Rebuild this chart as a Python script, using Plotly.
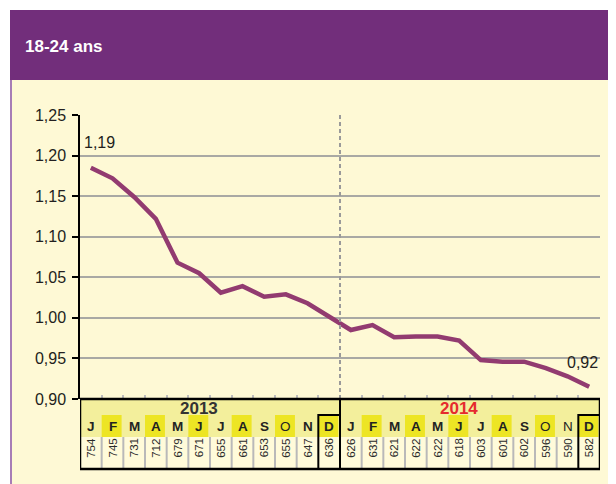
import plotly.graph_objects as go

# ---------------- data ----------------
title_text = "18-24 ans"
years = ["2013", "2014"]
month_letters = ["J", "F", "M", "A", "M", "J", "J", "A", "S", "O", "N", "D"]
values_2013 = [1.185, 1.172, 1.149, 1.122, 1.068, 1.055, 1.031, 1.039, 1.026, 1.029, 1.018, 1.001]
values_2014 = [0.985, 0.991, 0.976, 0.977, 0.977, 0.972, 0.948, 0.946, 0.946, 0.938, 0.928, 0.915]
counts_2013 = [754, 745, 731, 712, 679, 671, 655, 661, 653, 655, 647, 636]
counts_2014 = [626, 631, 621, 622, 622, 618, 603, 601, 602, 596, 590, 582]
first_label = "1,19"
last_label = "0,92"
y_ticks = [0.90, 0.95, 1.00, 1.05, 1.10, 1.15, 1.20, 1.25]

# ---------------- layout constants (screen pixels) ----------------
OX, OY = 8, 8            # page body margin of the browser
SW, SH = 616, 484        # screen size
W, H = SW - OX, SH - OY  # figure size
PL, PR, PT, PB = 80, 600, 115, 399   # plot area in screen pixels
L, R, T, B = PL - OX, SW - PR, PT - OY, SH - PB
PW, PH = PR - PL, PB - PT


def px(x):
    return (x - PL) / PW


def py(y):
    return (PB - y) / PH


values = values_2013 + values_2014
counts = counts_2013 + counts_2014
n = len(values)
xs = list(range(n))

PURPLE = "#722E7B"
CREAM = "#FEF9D5"
LINE = "#923B70"
ROW_BG = "#F3EF9C"
HILITE = "#EDE524"
FONT = "Liberation Sans, Arial"

fig = go.Figure()
fig.add_trace(go.Scatter(x=xs, y=values, mode="lines",
                         line=dict(color=LINE, width=4.5), hoverinfo="skip",
                         showlegend=False))

shapes = []
ann = []

# page background / header
shapes.append(dict(type="rect", xref="paper", yref="paper", x0=px(10), x1=px(SW + 2), y0=py(80), y1=py(SH + 2),
                   fillcolor=CREAM, line_width=0, layer="below"))
shapes.append(dict(type="rect", xref="paper", yref="paper", x0=px(10), x1=px(SW + 2), y0=py(10), y1=py(80),
                   fillcolor=PURPLE, line_width=0, layer="below"))
shapes.append(dict(type="line", xref="paper", yref="paper", x0=px(11), x1=px(11), y0=py(80), y1=py(SH + 2),
                   line=dict(color="#A77DB6", width=2), layer="below"))
ann.append(dict(text="<b>" + title_text + "</b>", xref="paper", yref="paper", x=px(23), y=py(46),
                xanchor="left", yanchor="middle", showarrow=False,
                font=dict(family=FONT, size=17, color="white")))

# dashed separator between years
shapes.append(dict(type="line", xref="x", yref="y", x0=11.5, x1=11.5, y0=0.90, y1=1.25,
                   line=dict(color="#9A9A9A", width=2, dash="4px,3px"), layer="above"))

# ---------------- table ----------------
y_top, y_mid1, y_mid2, y_bot = 399, 415, 437, 469
shapes.append(dict(type="rect", xref="x", yref="paper", x0=-0.5, x1=n - 0.5, y0=py(y_mid2), y1=py(y_top),
                   fillcolor=ROW_BG, line_width=0, layer="below"))
shapes.append(dict(type="rect", xref="x", yref="paper", x0=-0.5, x1=n - 0.5, y0=py(y_bot), y1=py(y_mid2),
                   fillcolor="#FFFBDA", line_width=0, layer="below"))
for i in range(n):
    m = i % 12
    if m % 2 == 1:
        shapes.append(dict(type="rect", xref="x", yref="paper", x0=i - 0.5, x1=i + 0.42,
                           y0=py(y_mid2), y1=py(y_mid1), fillcolor=HILITE, line_width=0, layer="below"))
    if i > 0 and i % 12 != 0 and m != 11:
        shapes.append(dict(type="line", xref="x", yref="paper", x0=i - 0.5, x1=i - 0.5,
                           y0=py(y_bot), y1=py(y_mid2), line=dict(color="#B9B9B9", width=2), layer="above"))
    letter = month_letters[m]
    light = (letter == "O") or (i == 22)
    ann.append(dict(text=letter if light else "<b>" + letter + "</b>", xref="x", yref="paper",
                    x=i, y=py(426.5), xanchor="center", yanchor="middle", showarrow=False,
                    font=dict(family=FONT, size=13.5, color="#222222")))
    ann.append(dict(text=str(counts[i]), xref="x", yref="paper", x=i, y=py(448), textangle=-90,
                    xanchor="center", yanchor="middle", showarrow=False,
                    font=dict(family=FONT, size=11.5, color="#2A2A2A")))

for d in (11, 23):
    shapes.append(dict(type="rect", xref="x", yref="paper", x0=d - 0.5, x1=d + 0.5, y0=py(y_bot),
                       y1=py(y_mid1), line=dict(color="black", width=2), layer="above"))
shapes.append(dict(type="line", xref="x", yref="paper", x0=11.5, x1=11.5, y0=py(y_bot), y1=py(y_top),
                   line=dict(color="black", width=2), layer="above"))
shapes.append(dict(type="rect", xref="x", yref="paper", x0=-0.5, x1=n - 0.5, y0=py(y_bot), y1=py(y_top),
                   line=dict(color="black", width=2.5), layer="above"))

ann.append(dict(text="<b>" + years[0] + "</b>", xref="x", yref="paper", x=5, y=py(408),
                xanchor="center", yanchor="middle", showarrow=False,
                font=dict(family=FONT, size=17, color="#333333")))
ann.append(dict(text="<b>" + years[1] + "</b>", xref="x", yref="paper", x=17, y=py(408),
                xanchor="center", yanchor="middle", showarrow=False,
                font=dict(family=FONT, size=17, color="#E52A2E")))

ann.append(dict(text=first_label, xref="x", yref="y", x=0, y=values[0], xshift=9, yshift=25,
                xanchor="center", yanchor="middle", showarrow=False,
                font=dict(family=FONT, size=16, color="#231F20")))
ann.append(dict(text=last_label, xref="x", yref="y", x=n - 1, y=values[-1], xshift=-7, yshift=24,
                xanchor="center", yanchor="middle", showarrow=False,
                font=dict(family=FONT, size=16, color="#231F20")))

fig.update_layout(
    width=W, height=H,
    margin=dict(l=L, r=R, t=T, b=B, pad=0),
    paper_bgcolor="white", plot_bgcolor="rgba(0,0,0,0)",
    separators=", ",
    shapes=shapes, annotations=ann,
    showlegend=False,
    xaxis=dict(range=[-0.5, n - 0.5], showgrid=False, zeroline=False, showline=False,
               ticks="inside", tickvals=[i + 0.5 for i in range(n - 1)], ticklen=4,
               tickcolor="#BDBDBD", tickwidth=1.5, showticklabels=False, fixedrange=True),
    yaxis=dict(range=[0.90, 1.25], tickvals=y_ticks, tickformat=".2f", showgrid=True,
               gridcolor="#A9A9A4", gridwidth=1.5, zeroline=False, showline=True,
               linecolor="black", linewidth=1.5, ticks="outside", ticklen=6, tickcolor="black",
               tickwidth=1.5, ticklabelstandoff=3,
               tickfont=dict(family=FONT, size=16, color="#231F20"),
               fixedrange=True),
)

fig.write_html("out.html", config={"displayModeBar": False})
